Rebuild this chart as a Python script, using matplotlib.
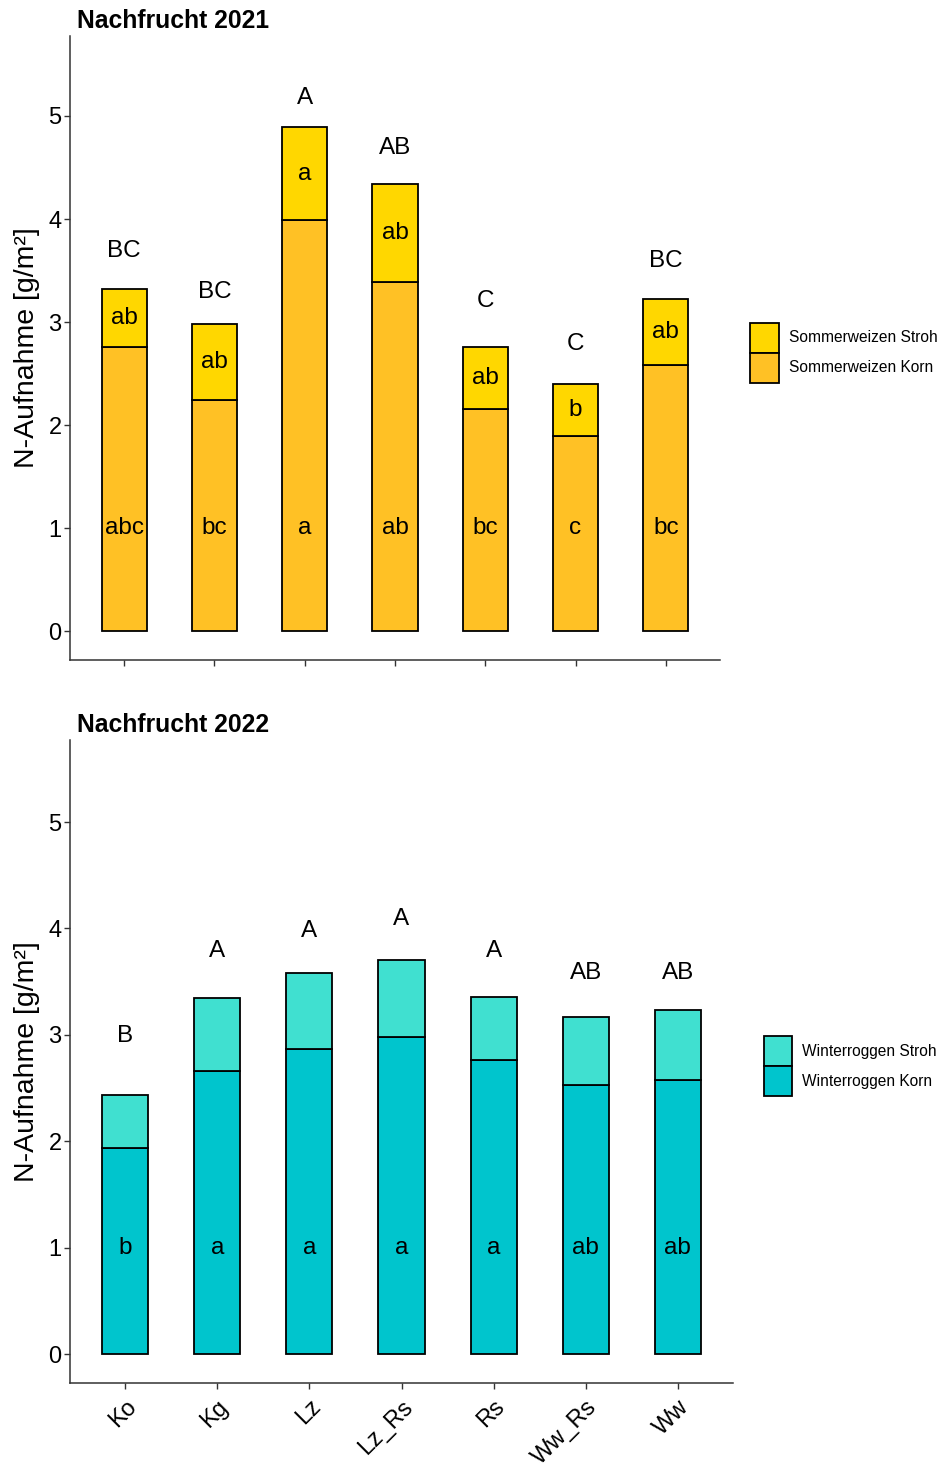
import numpy as np
import matplotlib.pyplot as plt
from matplotlib.patches import Patch

plt.rcParams['font.family'] = ['Liberation Sans', 'DejaVu Sans']

varianten = ['Ko', 'Kg', 'Lz', 'Lz_Rs', 'Rs', 'Ww_Rs', 'Ww']

# Nachfrucht 2021: Sommerweizen, N-Aufnahme [g/m²]
sw_korn = [2.76, 2.24, 3.99, 3.39, 2.16, 1.89, 2.58]
sw_stroh = [0.56, 0.74, 0.90, 0.95, 0.60, 0.51, 0.64]
sw_gesamt_buchst = ['BC', 'BC', 'A', 'AB', 'C', 'C', 'BC']
sw_gesamt_pos = [3.69, 3.29, 5.17, 4.69, 3.20, 2.79, 3.59]
sw_korn_buchst = ['abc', 'bc', 'a', 'ab', 'bc', 'c', 'bc']
sw_stroh_buchst = ['ab', 'ab', 'a', 'ab', 'ab', 'b', 'ab']

# Nachfrucht 2022: Winterroggen
wr_korn = [1.94, 2.66, 2.87, 2.98, 2.76, 2.53, 2.58]
wr_stroh = [0.49, 0.69, 0.71, 0.72, 0.60, 0.64, 0.65]
wr_gesamt_buchst = ['B', 'A', 'A', 'A', 'A', 'AB', 'AB']
wr_gesamt_pos = [2.99, 3.79, 3.98, 4.09, 3.79, 3.58, 3.58]
wr_korn_buchst = ['b', 'a', 'a', 'a', 'a', 'ab', 'ab']

W, H = 944, 1465
fig = plt.figure(figsize=(W / 100, H / 100), dpi=100)


def panel(rect, korn, stroh, c_korn, c_stroh, lab_korn, lab_stroh,
          gesamt_buchst, gesamt_pos, korn_buchst, stroh_buchst, titel,
          title_y, leg_x, leg_y, xlabels):
    ax = fig.add_axes(rect)
    x = np.arange(1, len(varianten) + 1)
    korn = np.array(korn)
    stroh = np.array(stroh)
    ax.bar(x, korn, width=0.5, color=c_korn, edgecolor='black', linewidth=1.3)
    ax.bar(x, stroh, width=0.5, bottom=korn, color=c_stroh, edgecolor='black', linewidth=1.3)
    for i in range(len(x)):
        ax.text(x[i], gesamt_pos[i], gesamt_buchst[i], ha='center', va='center', fontsize=17.5)
        ax.text(x[i], 1, korn_buchst[i], ha='center', va='center', fontsize=17.5)
        if stroh_buchst is not None:
            ax.text(x[i], korn[i] + stroh[i] / 2, stroh_buchst[i], ha='center', va='center', fontsize=17.5)

    ax.set_xlim(0.4, 7.6)
    ax.set_ylim(-0.275, 5.775)
    ax.set_yticks([0, 1, 2, 3, 4, 5])
    ax.set_xticks(x)
    for s in ['top', 'right']:
        ax.spines[s].set_visible(False)
    for s in ['left', 'bottom']:
        ax.spines[s].set_linewidth(1.1)
        ax.spines[s].set_color('#333333')
    ax.tick_params(axis='both', length=4, width=1, color='#333333', labelsize=17, labelcolor='black')
    ax.tick_params(axis='y', pad=2)
    if xlabels:
        ax.set_xticklabels(varianten, rotation=45, ha='right', va='top', rotation_mode='anchor')
        ax.tick_params(axis='x', pad=5)
    else:
        ax.set_xticklabels([])

    ax.set_ylabel('N-Aufnahme [g/m²]', fontsize=20.5)
    ax.yaxis.label.set_va('center')
    ax.yaxis.set_label_coords(-(70 - 27) / (rect[2] * W), 0.5)

    fig.text(77 / W, title_y, titel, fontsize=17.8, fontweight='bold', ha='left', va='baseline')

    # legend keys stacked edge to edge, Stroh above Korn
    handles = [Patch(facecolor=c_stroh, edgecolor='black', linewidth=1.3),
               Patch(facecolor=c_korn, edgecolor='black', linewidth=1.3)]
    fig.legend(handles, [lab_stroh, lab_korn], loc='center left',
               bbox_to_anchor=(leg_x, leg_y), bbox_transform=fig.transFigure,
               frameon=False, fontsize=11.2, borderpad=0, borderaxespad=0,
               handlelength=1.85, handleheight=2.6, labelspacing=0, handletextpad=0.65)
    return ax


panel([70 / W, 1 - 659.6 / H, 650 / W, 623.5 / H], sw_korn, sw_stroh,
      '#FFC125', '#FFD700', 'Sommerweizen Korn', 'Sommerweizen Stroh',
      sw_gesamt_buchst, sw_gesamt_pos, sw_korn_buchst, sw_stroh_buchst,
      'Nachfrucht 2021', 1 - 28 / H, 750 / W, 1 - 352.7 / H, False)

panel([70 / W, 1 - 1383.3 / H, 663 / W, 643.7 / H], wr_korn, wr_stroh,
      '#00C5CD', '#40E0D0', 'Winterroggen Korn', 'Winterroggen Stroh',
      wr_gesamt_buchst, wr_gesamt_pos, wr_korn_buchst, None,
      'Nachfrucht 2022', 1 - 732 / H, 763.5 / W, 1 - 1066 / H, True)

fig.savefig('out.png', dpi=100)
